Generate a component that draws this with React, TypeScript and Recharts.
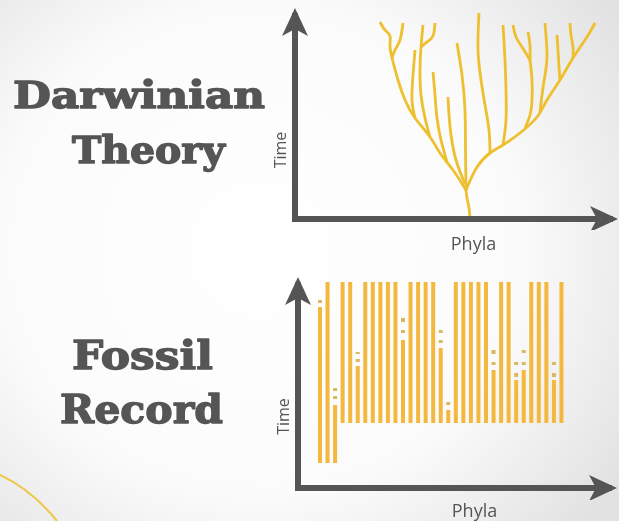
import { ComposedChart, Bar, Line, XAxis, YAxis } from "recharts";

// ---- Darwinian tree: each branch is a list of [phyla position, time] ----
const trunk = [[175, 0], [174, 11], [172, 21], [171, 29]];
const centre = [[171, 29], [170.5, 69], [170, 109], [167, 144], [162, 176]];
const leftMain = [[171, 29], [158, 49], [145, 66], [135, 82], [120, 101], [110, 119], [103, 139], [97, 161]];
const leftTwigA = [[97, 161], [95, 173], [95, 183], [90, 189], [85, 197]];
const leftTwigB = [[97, 161], [100, 169], [105, 179], [108, 196]];
const leftInner1 = [[120, 101], [117, 119], [118, 144], [120, 169]];
const leftInner2 = [[135, 82], [130, 101], [126, 124], [125, 149], [126, 172], [128, 194]];
const leftInner2Twig = [[126, 172], [132, 177], [138, 183], [140, 196]];
const leftInner3 = [[152, 57], [146, 79], [142, 101], [140, 124], [138, 147]];
const leftInner4 = [[170, 35], [161, 59], [156, 84], [154, 104], [153, 122]];
const rightMain = [[171, 29], [182, 52], [195, 66], [208, 74], [225, 86], [242, 102], [252, 119], [265, 139], [278, 161], [292, 182], [300, 196]];
const rightInner1 = [[195, 66], [194, 89], [190, 114], [186, 139], [183, 169], [184, 206]];
const rightInner2 = [[208, 74], [211, 99], [211, 129], [210, 159], [208, 194]];
const rightInner3 = [[230, 91], [235, 104], [237, 119], [237, 139], [235, 159]];
const rightInner3TwigA = [[235, 159], [227, 172], [221, 182], [218, 194]];
const rightInner3TwigB = [[235, 159], [235, 174], [233, 187]];
const rightInner4 = [[245, 107], [247, 124], [250, 144], [252, 164], [250, 196]];
const rightInner5 = [[265, 139], [264, 152], [263, 169], [262, 184]];
const rightInner6 = [[278, 161], [278, 172], [276, 184], [275, 196]];

const branches = [
  trunk, centre, leftMain, leftTwigA, leftTwigB, leftInner1, leftInner2, leftInner2Twig,
  leftInner3, leftInner4, rightMain, rightInner1, rightInner2, rightInner3, rightInner3TwigA,
  rightInner3TwigB, rightInner4, rightInner5, rightInner6,
].map((b) => b.map(([p, t]) => ({ p, t })));

// ---- Fossil record: one line per phylum (time units) ----
const fossilPhyla = [
  "1", "2", "3", "4", "5", "6", "7", "8", "9", "10", "11", "12", "13", "14", "15", "16", "17",
  "18", "19", "20", "21", "22", "23", "24", "25", "26", "27", "28", "29", "30", "31", "32", "33",
];
const fossilBottom = [25, 25, 25, 65, 65, 65, 65, 65, 65, 65, 65, 65, 65, 65, 65, 65, 65,
  65, 65, 65, 65, 65, 65, 65, 65, 65, 65, 65, 65, 65, 65, 65, 65];
const fossilTop = [181, 206, 83, 206, 206, 122, 206, 206, 206, 206, 206, 148, 206, 206, 206, 206, 140,
  78, 206, 206, 206, 206, 206, 118, 206, 206, 108, 118, 206, 206, 206, 108, 206];
const gapDashLow = [[185, 188], null, [89, 92], null, null, [126, 129], null, null, null, null, null, [155, 158], null, null, null, null, [145, 148],
  [83, 86], null, null, null, null, null, [123, 126], null, null, [111, 115], [123, 126], null, null, null, [111, 115], null];
const gapDashHigh = [null, null, [97, 100], null, null, [134, 136], null, null, null, null, null, [166, 170], null, null, null, null, [155, 158],
  null, null, null, null, null, null, [134, 138], null, null, [123, 126], [135, 138], null, null, null, [123, 126], null];

const fossilData = fossilPhyla.map((phylum, i) => ({
  phylum,
  range: [fossilBottom[i], fossilTop[i]],
  gapLow: gapDashLow[i],
  gapHigh: gapDashHigh[i],
}));

const GREY = "#555555";
const TREE = "#eebf2e";
const FOSSIL = "#f4b83e";
const SANS = "'Open Sans', sans-serif";
const SLAB = "'DejaVu Serif', serif";

const xAxisLine = { stroke: GREY, strokeWidth: 6, strokeLinecap: "square", markerEnd: "url(#arrow-x)" };
const yAxisLine = { stroke: GREY, strokeWidth: 6, markerStart: "url(#arrow-y)" };

function Markers() {
  return (
    <svg width={0} height={0} style={{ position: "absolute" }}>
      <defs>
        <marker id="arrow-x" viewBox="0 0 28 26" refX={20} refY={13} markerWidth={28} markerHeight={26}
          markerUnits="userSpaceOnUse" orient="auto-start-reverse">
          <path d="M0,0 L28,13 L0,26 L7,13 Z" fill={GREY} />
        </marker>
        <marker id="arrow-y" viewBox="0 0 28 26" refX={23} refY={13} markerWidth={28} markerHeight={26}
          markerUnits="userSpaceOnUse" orient="auto-start-reverse">
          <path d="M0,0 L28,13 L0,26 L7,13 Z" fill={GREY} />
        </marker>
      </defs>
    </svg>
  );
}

function TreeChart() {
  return (
    <div style={{ position: "absolute", left: 0, top: 0 }}>
      <ComposedChart width={619} height={230} margin={{ top: 13, right: 9, bottom: 0, left: 0 }}>
        <XAxis type="number" dataKey="p" domain={[0, 315]} height={11} tick={false} tickLine={false} axisLine={xAxisLine} />
        <YAxis type="number" dataKey="t" domain={[0, 206]} width={295} tick={false} tickLine={false} axisLine={yAxisLine} />
        {branches.map((b, i) => (
          <Line key={i} data={b} dataKey="t" type="natural" stroke={TREE} strokeWidth={2.8}
            dot={false} activeDot={false} isAnimationActive={false} />
        ))}
      </ComposedChart>
    </div>
  );
}

function FossilChart() {
  return (
    <div style={{ position: "absolute", left: 0, top: 260 }}>
      <ComposedChart width={619} height={240} data={fossilData} barGap={-4}
        margin={{ top: 22, right: 10, bottom: 0, left: 0 }}>
        <XAxis dataKey="phylum" height={12} tick={false} tickLine={false} axisLine={xAxisLine}
          padding={{ left: 18, right: 44 }} />
        <YAxis type="number" domain={[0, 206]} width={298} tick={false} tickLine={false} axisLine={yAxisLine} />
        <Bar dataKey="range" barSize={4} fill={FOSSIL} isAnimationActive={false} />
        <Bar dataKey="gapLow" barSize={4} fill="#dcb85e" isAnimationActive={false} />
        <Bar dataKey="gapHigh" barSize={4} fill="#dcb85e" isAnimationActive={false} />
      </ComposedChart>
    </div>
  );
}

export default function App() {
  return (
    <div
      style={{
        position: "fixed", left: 0, top: 0, width: 619, height: 521, overflow: "hidden",
        background: "radial-gradient(ellipse 70% 78% at 42% 48%, #ffffff 0%, #fbfbfb 60%, #e2e2e2 100%)",
      }}
    >
      <Markers />
      <TreeChart />
      <FossilChart />
      <svg width={619} height={521} style={{ position: "absolute", left: 0, top: 0, pointerEvents: "none" }}>
        <g fill={GREY} stroke={GREY} strokeWidth={1.4} strokeLinejoin="round" fontFamily={SLAB} fontWeight="bold" textAnchor="middle">
          <text x={139} y={108} fontSize={38} textLength={252} lengthAdjust="spacingAndGlyphs">Darwinian</text>
          <text x={148.5} y={163} fontSize={38} textLength={153} lengthAdjust="spacingAndGlyphs">Theory</text>
          <text x={142.5} y={369} fontSize={40} textLength={141} lengthAdjust="spacingAndGlyphs">Fossil</text>
          <text x={141.5} y={422.5} fontSize={40} textLength={163} lengthAdjust="spacingAndGlyphs">Record</text>
        </g>
        <g fill={GREY} fontFamily={SANS} textAnchor="middle">
          <text x={286} y={150} fontSize={16} transform="rotate(-90 286 150)">Time</text>
          <text x={289} y={416.5} fontSize={16} transform="rotate(-90 289 416.5)">Time</text>
          <text x={473.5} y={250} fontSize={18}>Phyla</text>
          <text x={474.5} y={517} fontSize={18}>Phyla</text>
        </g>
        <path d="M0,475 Q32,490 57,521" fill="none" stroke="#f0c648" strokeWidth={2} />
      </svg>
    </div>
  );
}
